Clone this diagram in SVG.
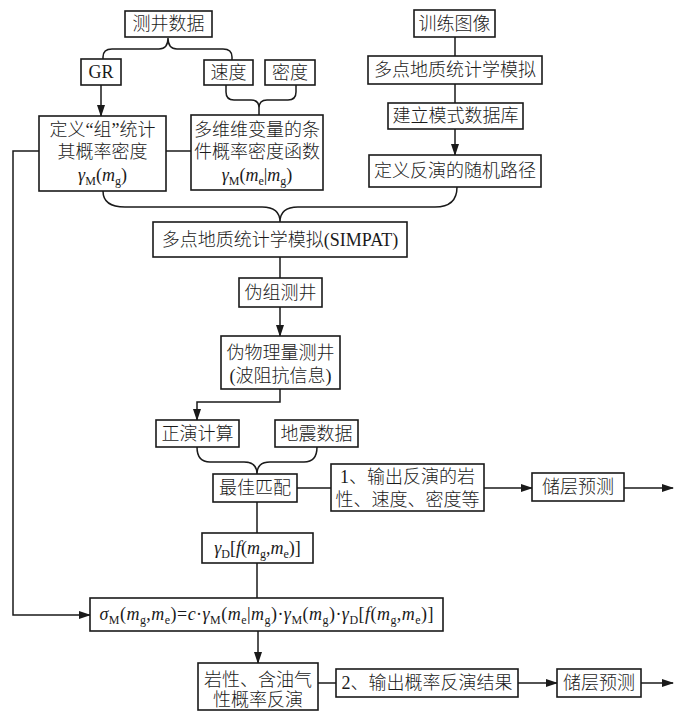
<svg xmlns="http://www.w3.org/2000/svg" width="677" height="719" viewBox="0 0 677 719">
<style>
.bg{fill:#ffffff}
.box{fill:#ffffff;stroke:#1a1a1a;stroke-width:1.6}
.ln{fill:none;stroke:#1a1a1a;stroke-width:1.5}
text{font-family:"Liberation Serif","Noto Sans CJK SC",serif;font-size:18px;fill:#1a1a1a;text-anchor:middle}
.cjk{font-family:"Liberation Serif","Noto Sans CJK SC",sans-serif;font-weight:300}
.i{font-style:italic}
.s{font-size:12px;font-style:normal}
</style>
<defs>
<marker id="ah" markerWidth="12" markerHeight="8" refX="11" refY="4" orient="auto" markerUnits="userSpaceOnUse">
<path d="M0,0 L12,4 L0,8 Z" fill="#1a1a1a"/>
</marker>
</defs>
<rect class="bg" x="0" y="0" width="677" height="719"/>

<g id="connectors">
<path class="ln" d="M103,59 L103,57 Q103,49 112,49 L159,49 Q168,49 168,38 Q168,49 177,49 L223,49 Q232,49 232,57 L232,60"/>
<path class="ln" d="M101,85 L101,116" marker-end="url(#ah)"/>
<path class="ln" d="M226,85 L226,92 Q226,100 234,100 L251,100 Q259,100 259,108 L259,115 M296,85 L296,92 Q296,100 288,100 L267,100 Q259,100 259,108"/>
<path class="ln" d="M166,151 L191,151"/>
<path class="ln" d="M455,37 L455,56 M455,84 L455,103"/>
<path class="ln" d="M455,129 L455,155" marker-end="url(#ah)"/>
<path class="ln" d="M103,191 Q103,207 125,207 L262,207 Q280,207 280,222 M457,187 Q457,207 435,207 L298,207 Q280,207 280,222"/>
<path class="ln" d="M280,257 L280,278"/>
<path class="ln" d="M280,307 L280,336" marker-end="url(#ah)"/>
<path class="ln" d="M280,389 L280,402 L197,402 L197,420" marker-end="url(#ah)"/>
<path class="ln" d="M197,447 Q197,462 210,462 L244,462 Q257,462 257,474 M317,447 Q317,462 304,462 L270,462 Q257,462 257,474"/>
<path class="ln" d="M297,488 L331,488"/>
<path class="ln" d="M484,488 L532,488" marker-end="url(#ah)"/>
<path class="ln" d="M624,488 L673,488" marker-end="url(#ah)"/>
<path class="ln" d="M257,502 L257,533 M257,563 L257,598"/>
<path class="ln" d="M39,151 L13,151 L13,615 L90,615" marker-end="url(#ah)"/>
<path class="ln" d="M258,631 L258,663" marker-end="url(#ah)"/>
<path class="ln" d="M318,683 L336,683"/>
<path class="ln" d="M518,683 L557,683" marker-end="url(#ah)"/>
<path class="ln" d="M641,683 L673,683" marker-end="url(#ah)"/>
</g>

<g id="n-cejing"><rect class="box" x="125" y="11" width="87" height="26"/><text class="cjk" x="168.5" y="30">测井数据</text></g>
<g id="n-gr"><rect class="box" x="81" y="59" width="40" height="26"/><text x="101" y="78">GR</text></g>
<g id="n-sudu"><rect class="box" x="204" y="60" width="49" height="25"/><text class="cjk" x="228.5" y="79">速度</text></g>
<g id="n-midu"><rect class="box" x="265" y="60" width="50" height="25"/><text class="cjk" x="290" y="79">密度</text></g>
<g id="n-dingyi"><rect class="box" x="39" y="116" width="127" height="75"/>
<text class="cjk" x="102.5" y="136">定义“组”统计</text>
<text class="cjk" x="102.5" y="158">其概率密度</text>
<text x="102.5" y="181"><tspan class="i">γ</tspan><tspan class="s" dy="4">M</tspan><tspan dy="-4">(</tspan><tspan class="i">m</tspan><tspan class="s" dy="4">g</tspan><tspan dy="-4">)</tspan></text>
</g>
<g id="n-duowei"><rect class="box" x="191" y="115" width="132" height="75"/>
<text class="cjk" x="257" y="136">多维维变量的条</text>
<text class="cjk" x="257" y="158">件概率密度函数</text>
<text x="257" y="181"><tspan class="i">γ</tspan><tspan class="s" dy="4">M</tspan><tspan dy="-4">(</tspan><tspan class="i">m</tspan><tspan class="s" dy="4">e</tspan><tspan dy="-4">|</tspan><tspan class="i">m</tspan><tspan class="s" dy="4">g</tspan><tspan dy="-4">)</tspan></text>
</g>
<g id="n-xunlian"><rect class="box" x="414" y="10" width="81" height="27"/><text class="cjk" x="454.5" y="30">训练图像</text></g>
<g id="n-duodian"><rect class="box" x="368" y="56" width="174" height="28"/><text class="cjk" x="455" y="76">多点地质统计学模拟</text></g>
<g id="n-jianli"><rect class="box" x="388" y="103" width="135" height="26"/><text class="cjk" x="455.5" y="122">建立模式数据库</text></g>
<g id="n-lujing"><rect class="box" x="369" y="155" width="172" height="32"/><text class="cjk" x="455" y="177">定义反演的随机路径</text></g>
<g id="n-simpat"><rect class="box" x="153" y="222" width="254" height="35"/><text class="cjk" x="280" y="246">多点地质统计学模拟(SIMPAT)</text></g>
<g id="n-weizu"><rect class="box" x="239" y="278" width="83" height="29"/><text class="cjk" x="280.5" y="299">伪组测井</text></g>
<g id="n-weiwuli"><rect class="box" x="221" y="336" width="119" height="53"/>
<text class="cjk" x="280.5" y="359">伪物理量测井</text>
<text class="cjk" x="280.5" y="382">(波阻抗信息)</text>
</g>
<g id="n-zhengyan"><rect class="box" x="156" y="420" width="83" height="27"/><text class="cjk" x="197.5" y="440">正演计算</text></g>
<g id="n-dizhen"><rect class="box" x="275" y="420" width="83" height="27"/><text class="cjk" x="316.5" y="440">地震数据</text></g>
<g id="n-zuijia"><rect class="box" x="213" y="474" width="84" height="28"/><text class="cjk" x="255" y="494">最佳匹配</text></g>
<g id="n-shuchu1"><rect class="box" x="331" y="464" width="153" height="47"/>
<text class="cjk" x="407.5" y="483">1、输出反演的岩</text>
<text class="cjk" x="407.5" y="506">性、速度、密度等</text>
</g>
<g id="n-chuceng1"><rect class="box" x="532" y="473" width="92" height="28"/><text class="cjk" x="578" y="493">储层预测</text></g>
<g id="n-gammad"><rect class="box" x="202" y="533" width="111" height="30"/>
<text x="257.5" y="554"><tspan class="i">γ</tspan><tspan class="s" dy="4">D</tspan><tspan dy="-4">[</tspan><tspan class="i">f</tspan><tspan>(</tspan><tspan class="i">m</tspan><tspan class="s" dy="4">g</tspan><tspan dy="-4">,</tspan><tspan class="i">m</tspan><tspan class="s" dy="4">e</tspan><tspan dy="-4">)]</tspan></text>
</g>
<g id="n-sigma"><rect class="box" x="90" y="598" width="353" height="33"/>
<text x="266.5" y="620" textLength="334" lengthAdjust="spacing"><tspan class="i">σ</tspan><tspan class="s" dy="4">M</tspan><tspan dy="-4">(</tspan><tspan class="i">m</tspan><tspan class="s" dy="4">g</tspan><tspan dy="-4">,</tspan><tspan class="i">m</tspan><tspan class="s" dy="4">e</tspan><tspan dy="-4">)=</tspan><tspan class="i">c</tspan><tspan>·</tspan><tspan class="i">γ</tspan><tspan class="s" dy="4">M</tspan><tspan dy="-4">(</tspan><tspan class="i">m</tspan><tspan class="s" dy="4">e</tspan><tspan dy="-4">|</tspan><tspan class="i">m</tspan><tspan class="s" dy="4">g</tspan><tspan dy="-4">)·</tspan><tspan class="i">γ</tspan><tspan class="s" dy="4">M</tspan><tspan dy="-4">(</tspan><tspan class="i">m</tspan><tspan class="s" dy="4">g</tspan><tspan dy="-4">)·</tspan><tspan class="i">γ</tspan><tspan class="s" dy="4">D</tspan><tspan dy="-4">[</tspan><tspan class="i">f</tspan><tspan>(</tspan><tspan class="i">m</tspan><tspan class="s" dy="4">g</tspan><tspan dy="-4">,</tspan><tspan class="i">m</tspan><tspan class="s" dy="4">e</tspan><tspan dy="-4">)]</tspan></text>
</g>
<g id="n-yanxing"><rect class="box" x="198" y="663" width="120" height="47"/>
<text class="cjk" x="258" y="686">岩性、含油气</text>
<text class="cjk" x="258" y="706">性概率反演</text>
</g>
<g id="n-shuchu2"><rect class="box" x="336" y="669" width="182" height="28"/><text class="cjk" x="427" y="689">2、输出概率反演结果</text></g>
<g id="n-chuceng2"><rect class="box" x="557" y="669" width="84" height="28"/><text class="cjk" x="599" y="689">储层预测</text></g>
</svg>
